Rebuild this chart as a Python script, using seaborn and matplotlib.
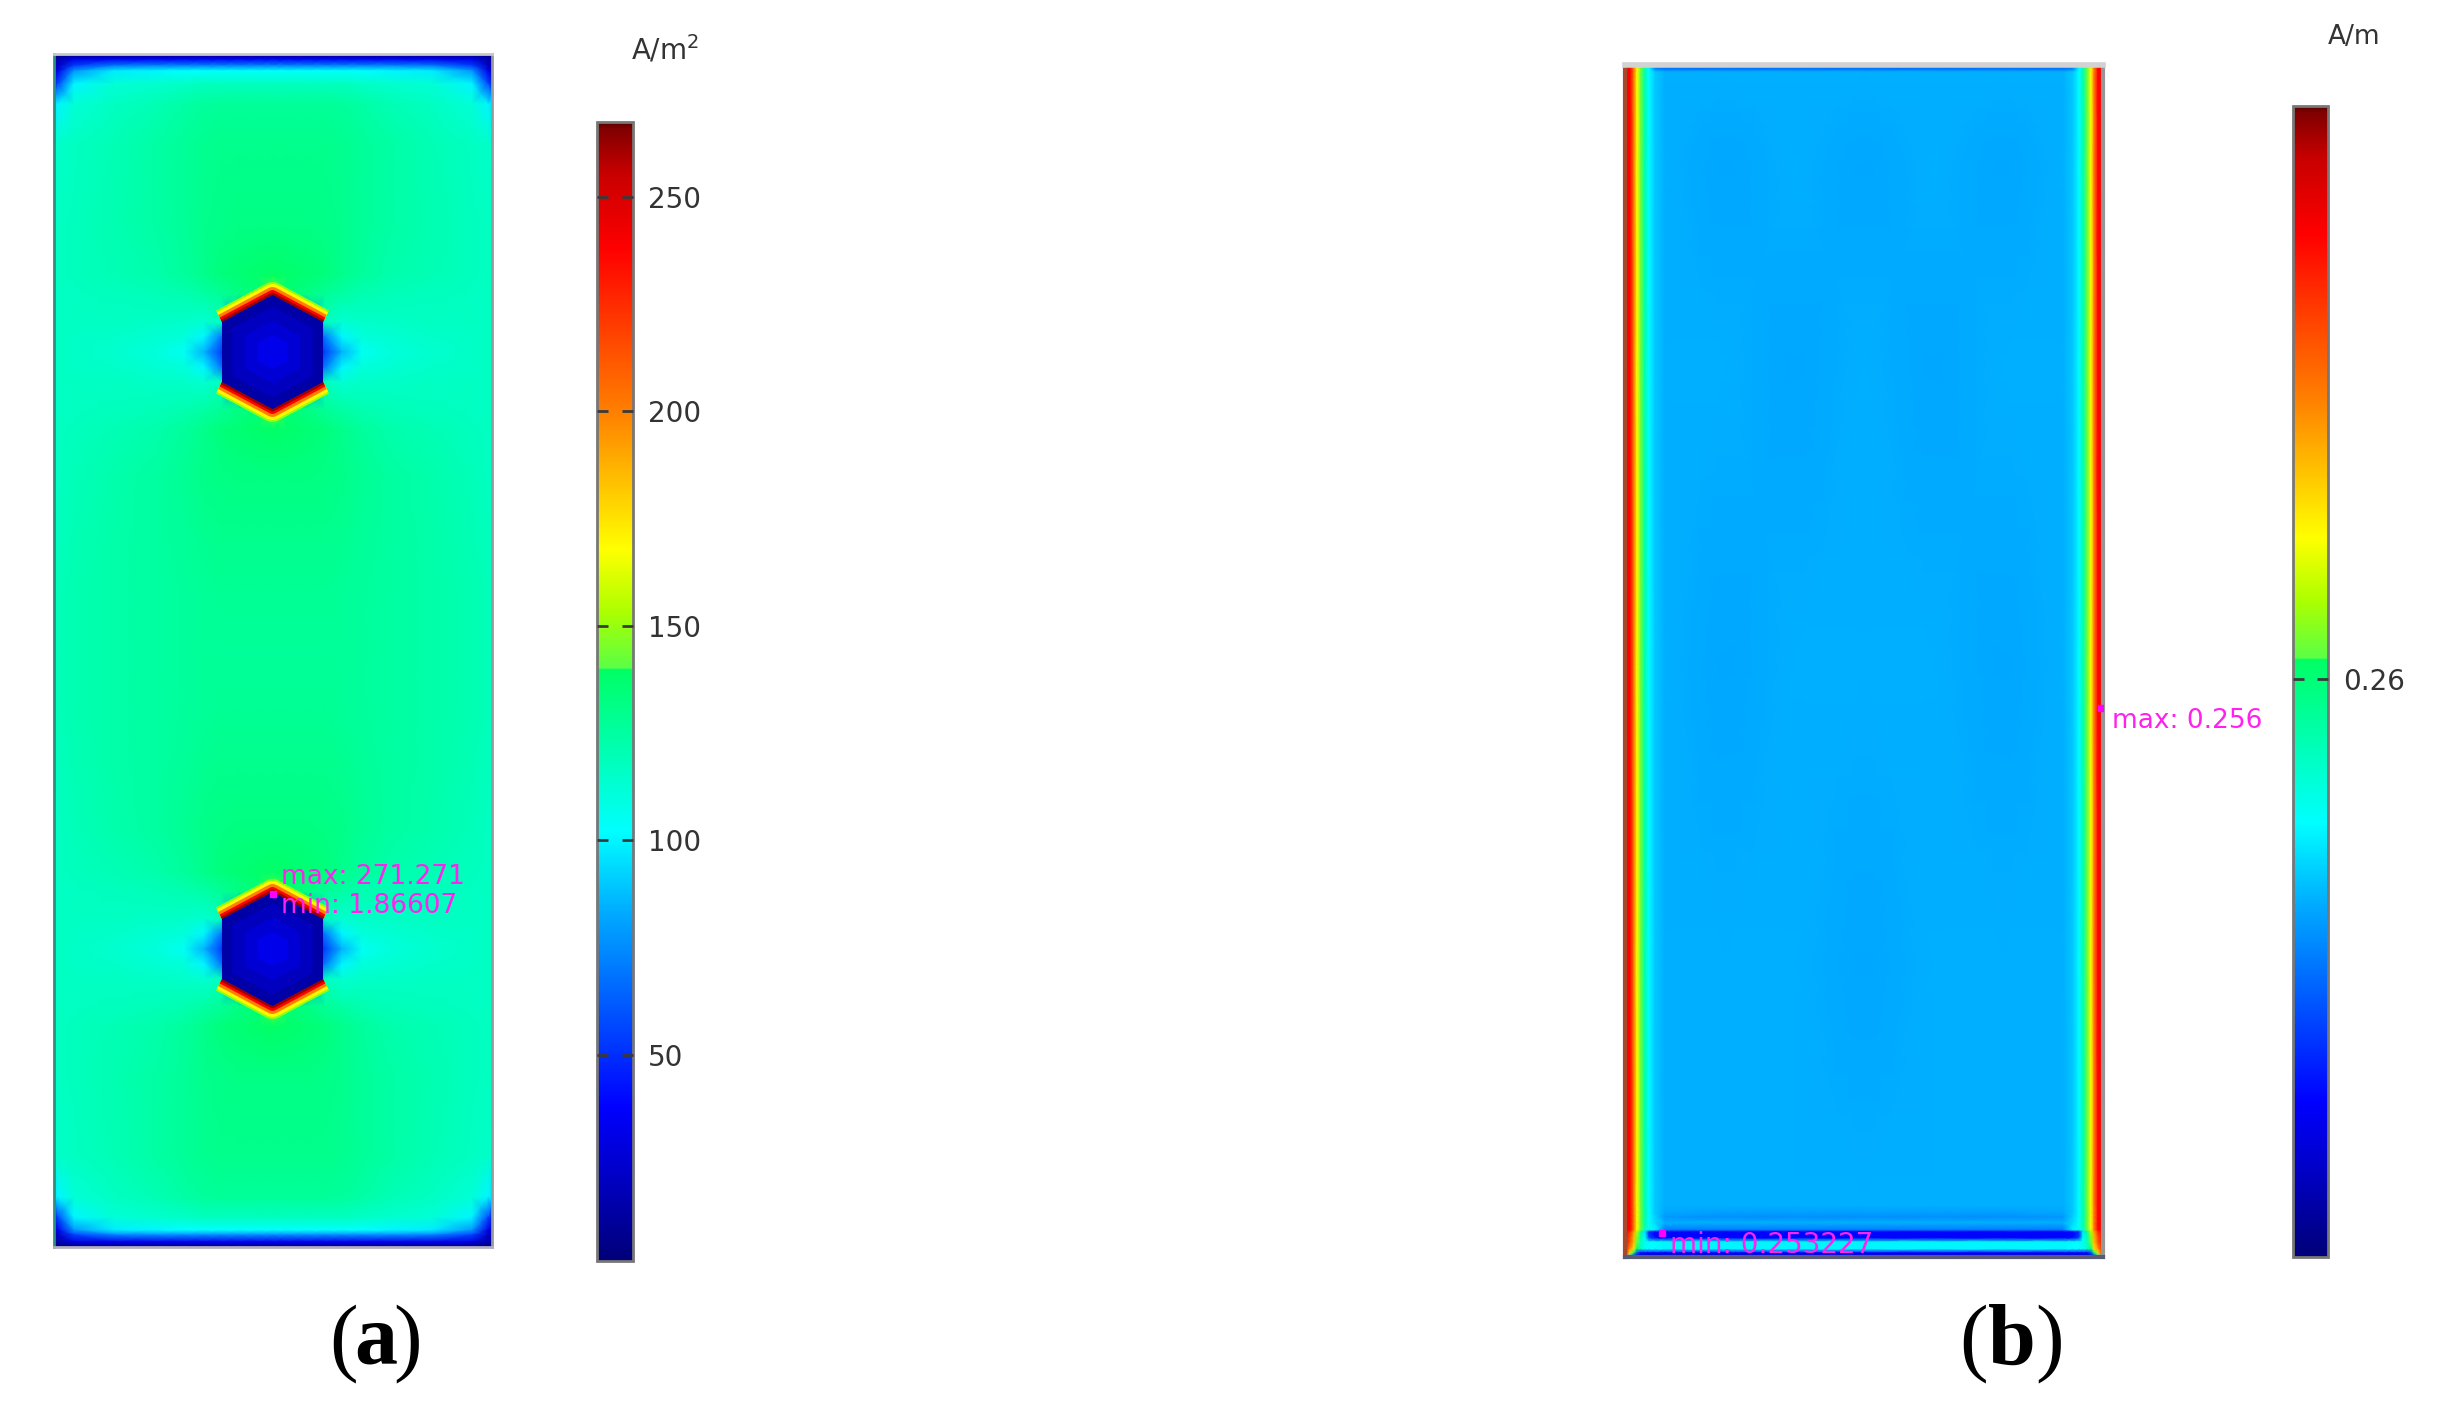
import numpy as np
import pandas as pd
import matplotlib
matplotlib.use('Agg')
import matplotlib.pyplot as plt
from matplotlib.colors import LinearSegmentedColormap
import seaborn as sns

sns.set_theme(style='white')
plt.rcParams['font.family'] = ['DejaVu Sans']

# 读取的色标 (fraction of the bar -> colour)
scale_stops = [0.0, 0.077, 0.135, 0.305, 0.377, 0.519, 0.5205, 0.569, 0.625, 0.745, 0.889, 0.955, 0.995, 1.0]
scale_colors = ['#000078', '#0000c8', '#0000ff', '#00aaff', '#00ffff', '#00ff64', '#5aff46', '#aaff00',
                '#ffff00', '#ff8000', '#ff0000', '#c80000', '#800000', '#500000']

# panel a: current density A/m2, quarter of the plate
a_vmin, a_vmax = 1.866, 267.5
a_ticks = [50, 100, 150, 200, 250]
a_col_pos = [0, 4, 20, 60, 100, 130, 150, 167, 185, 205, 219]
a_row_pos = [0, 5, 12, 17, 30, 50, 90, 170, 220, 241, 268, 283, 298, 313, 328, 355, 375, 420, 480, 540, 596.5]
a_rows = [
    [3, 3, 3, 3, 3, 3, 3, 3, 3, 3, 3],
    [15, 15, 30, 33, 34, 34, 34, 34, 34, 34, 34],
    [18, 22, 55, 72, 75, 75, 75, 75, 75, 75, 75],
    [25, 32, 78, 98, 100, 102, 103, 103, 103, 103, 103],
    [45, 58, 100, 112, 114, 116, 118, 118, 118, 118, 118],
    [95, 100, 112, 117, 120, 124, 126, 127, 127, 127, 127],
    [114, 115, 117, 120, 124, 127, 129, 130, 130, 130, 130],
    [117, 117, 118, 121, 124, 127, 130, 131, 132, 132, 132],
    [117, 117, 118, 120, 122, 126, 130, 134, 136, 138, 139],
    [117, 117, 117, 118, 119, 121, 124, 127, 132, 135, 145],
    [117, 117, 117, 117, 116, 115, 113, 118, 60, 30, 30],
    [117, 117, 116, 115, 113, 111, 100, 70, 30, 30, 30],
    [117, 117, 116, 114, 111, 105, 85, 55, 30, 30, 30],
    [117, 117, 116, 115, 113, 111, 100, 70, 30, 30, 30],
    [117, 117, 117, 117, 116, 115, 113, 118, 60, 30, 30],
    [117, 117, 117, 118, 119, 121, 124, 127, 132, 135, 145],
    [117, 117, 118, 120, 122, 126, 130, 134, 136, 138, 139],
    [117, 117, 119, 122, 125, 128, 131, 132, 133, 133, 133],
    [118, 118, 120, 123, 125, 127, 129, 130, 130, 130, 130],
    [118, 119, 121, 123, 125, 126, 127, 128, 128, 128, 128],
    [118, 119, 121, 123, 125, 126, 127, 127, 127, 127, 127],
]
hole_cx = 218.5
hole_cy = [298, 895]
hole_half_w, hole_half_side, hole_half_tip = 50.5, 30, 57
ring_values = [150, 170, 200, 238, 262]
ring_width = [13, 11, 8, 5, 2.5]
hole_values = [14, 20, 26, 32]
hole_shrink = [1.0, 0.8, 0.55, 0.3]

# panel b: A/m, half of the plate (values x 1e-4)
b_vmin, b_vmax = 0.253227, 0.26672
b_ticks = [0.26]
b_col_pos = [0, 5, 9, 12, 16, 20, 24, 30, 40, 100, 170, 239]
b_row_pos = [0, 4, 7, 100, 300, 600, 900, 1140, 1148, 1152, 1158, 1165, 1167, 1173, 1177, 1184, 1188, 1192]
b_rows = [
    [2652, 2652, 2633, 2617, 2603, 2593, 2583, 2568, 2566, 2566, 2566, 2566],
    [2652, 2652, 2633, 2617, 2603, 2593, 2583, 2568, 2566, 2566, 2566, 2566],
    [2652, 2652, 2633, 2617, 2603, 2593, 2583, 2577, 2574, 2574, 2574, 2574],
    [2652, 2652, 2633, 2617, 2603, 2593, 2583, 2577, 2574, 2573, 2574, 2573],
    [2652, 2652, 2633, 2617, 2603, 2593, 2583, 2577, 2574, 2574, 2573, 2574],
    [2652, 2652, 2633, 2617, 2603, 2593, 2583, 2577, 2574, 2573, 2574, 2574],
    [2652, 2652, 2633, 2617, 2603, 2593, 2583, 2577, 2574, 2574, 2574, 2573],
    [2652, 2652, 2633, 2617, 2603, 2593, 2583, 2577, 2574, 2574, 2574, 2574],
    [2652, 2652, 2633, 2617, 2603, 2593, 2583, 2577, 2573, 2572, 2572, 2572],
    [2652, 2652, 2633, 2617, 2603, 2593, 2583, 2578, 2571, 2570, 2570, 2570],
    [2652, 2652, 2633, 2617, 2603, 2593, 2584, 2579, 2574, 2574, 2574, 2574],
    [2652, 2652, 2633, 2617, 2603, 2590, 2586, 2582, 2567, 2567, 2567, 2567],
    [2652, 2645, 2628, 2610, 2595, 2580, 2556, 2551, 2551, 2551, 2551, 2551],
    [2652, 2640, 2625, 2605, 2592, 2585, 2560, 2552, 2551, 2551, 2551, 2551],
    [2652, 2640, 2625, 2605, 2590, 2585, 2583, 2583, 2582, 2582, 2582, 2582],
    [2652, 2630, 2620, 2600, 2590, 2585, 2583, 2583, 2582, 2582, 2582, 2582],
    [2652, 2620, 2600, 2560, 2550, 2550, 2550, 2550, 2550, 2550, 2550, 2550],
    [2600, 2580, 2550, 2545, 2545, 2545, 2545, 2545, 2545, 2545, 2545, 2545],
]

W, H = 2448, 1406
fig = plt.figure(figsize=(W / 100, H / 100), dpi=100, facecolor='white')
cmap = LinearSegmentedColormap.from_list('rainbow_fem', list(zip(scale_stops, scale_colors)), N=1024)


def box(x0, y0, x1, y1):
    return [x0 / W, 1 - y1 / H, (x1 - x0) / W, (y1 - y0) / H]


def field_panel(table, col_pos, row_pos, rect, cax_rect, vmin, vmax, ticks, fmt):
    ax = fig.add_axes(box(*rect))
    cax = fig.add_axes(box(*cax_rect))
    df = pd.DataFrame(table)
    sns.heatmap(df, ax=ax, cbar_ax=cax, cmap=cmap, vmin=vmin, vmax=vmax, shading='gouraud',
                xticklabels=False, yticklabels=False, cbar_kws={'ticks': ticks, 'format': fmt})
    # the table is on an uneven grid, so let the axis scales carry the spacing
    ci = np.arange(len(col_pos))
    ri = np.arange(len(row_pos))
    ax.set_xscale('function', functions=(lambda v: np.interp(v, ci, col_pos), lambda v: np.interp(v, col_pos, ci)))
    ax.set_yscale('function', functions=(lambda v: np.interp(v, ri, row_pos), lambda v: np.interp(v, row_pos, ri)))
    ax.set_xlim(0, len(col_pos) - 1)
    ax.set_ylim(len(row_pos) - 1, 0)
    ax.set_xticks([])
    ax.set_yticks([])
    ax.minorticks_off()
    cb = ax.collections[0].colorbar
    cb.outline.set_visible(True)
    cb.outline.set_edgecolor('#777777')
    cb.outline.set_linewidth(2)
    cax.minorticks_off()
    cax.set_axisbelow(False)
    cax.tick_params(left=True, right=True, direction='in', length=8, width=2, color='#3a3a3a',
                    labelsize=20, labelcolor='#333333', pad=11)
    # overlay in plate coordinates
    ov = fig.add_axes(box(*rect), facecolor='none')
    ov.set_xlim(0, col_pos[-1])
    ov.set_ylim(row_pos[-1], 0)
    ov.axis('off')
    return ax, ov


# panel a
a_half = np.array(a_rows, dtype=float)
a_quarter = np.hstack([a_half, a_half[:, -2::-1]])
a_table = np.vstack([a_quarter, a_quarter[-2::-1]])
a_cols = np.r_[a_col_pos, 2 * a_col_pos[-1] - np.array(a_col_pos[-2::-1])]
a_rws = np.r_[a_row_pos, 2 * a_row_pos[-1] - np.array(a_row_pos[-2::-1])]
ax_a, ov_a = field_panel(a_table, a_cols, a_rws, (54, 54, 492, 1247), (597, 122, 633, 1261),
                         a_vmin, a_vmax, a_ticks, '%d')
norm_a = plt.Normalize(a_vmin, a_vmax)
for cy in hole_cy:
    for sign in (-1, 1):
        xs = [hole_cx - hole_half_w, hole_cx, hole_cx + hole_half_w]
        ys = [cy + sign * hole_half_side, cy + sign * hole_half_tip, cy + sign * hole_half_side]
        for val, wid in zip(ring_values, ring_width):
            ov_a.plot(xs, ys, color=cmap(norm_a(val)), lw=wid * 2 * 0.72, solid_capstyle='butt',
                      solid_joinstyle='round', zorder=2)
    for val, k in zip(hole_values, hole_shrink):
        hx = hole_cx + k * hole_half_w * np.array([0, 1, 1, 0, -1, -1])
        hy = cy + k * np.array([-hole_half_tip, -hole_half_side, hole_half_side, hole_half_tip,
                                hole_half_side, -hole_half_side])
        ov_a.fill(hx, hy, color=cmap(norm_a(val)), lw=0, zorder=3)
ov_a.plot([218.5], [840], marker='s', ms=5, color='#ff00ff', ls='none', zorder=4)
ov_a.text(227, 823, 'max: 271.271', color='#ff22ee', fontsize=19, va='center', clip_on=False, zorder=5)
ov_a.text(227, 852, 'min: 1.86607', color='#ff22ee', fontsize=19, va='center', clip_on=False, zorder=5)
ax_a.spines['left'].set(visible=True, color='#2f8f7f', linewidth=2)
ax_a.spines['right'].set(visible=True, color='#9a9a9a', linewidth=2)
ax_a.spines['top'].set(visible=True, color='#c8c8c8', linewidth=2)
ax_a.spines['bottom'].set(visible=True, color='#b0b0c0', linewidth=2)

# panel b
b_half = np.array(b_rows, dtype=float) / 1e4
b_table = np.hstack([b_half, b_half[:, -2::-1]])
b_cols = np.r_[b_col_pos, 2 * b_col_pos[-1] - np.array(b_col_pos[-2::-1])]
ax_b, ov_b = field_panel(b_table, b_cols, b_row_pos, (1625, 65, 2103, 1257), (2293, 106, 2328, 1257),
                         b_vmin, b_vmax, b_ticks, '%.2f')
ov_b.plot([476, 37], [643, 1168], marker='s', ms=5, color='#ff00ff', ls='none')
ov_b.text(487, 656, 'max: 0.256', color='#ff22ee', fontsize=19, va='center', clip_on=False)
ov_b.text(45, 1180, 'min: 0.253227', color='#ff22ee', fontsize=20, va='center', clip_on=True)
ax_b.spines['left'].set(visible=True, color='#a8482c', linewidth=3)
ax_b.spines['right'].set(visible=True, color='#969696', linewidth=3)
ax_b.spines['top'].set(visible=True, color='#d2d2d2', linewidth=4)
ax_b.spines['bottom'].set(visible=True, color='#5a5a78', linewidth=3)


def label(x, y, s, **kw):
    fig.text(x / W, 1 - y / H, s, ha='center', **kw)


label(665, 50, 'A/m$^2$', fontsize=20, color='#333333', va='center')
label(2354, 37, 'A/m', fontsize=19, color='#333333', va='center')
for cx, letter, gap in [(376, 'a', 32), (2012, 'b', 38)]:
    label(cx - gap, 1364, '(', family='Liberation Serif', fontsize=62, color='black', va='baseline')
    label(cx, 1364, letter, family='Liberation Serif', weight='bold', fontsize=62, color='black', va='baseline')
    label(cx + gap, 1364, ')', family='Liberation Serif', fontsize=62, color='black', va='baseline')

fig.savefig('out.png', dpi=100)
